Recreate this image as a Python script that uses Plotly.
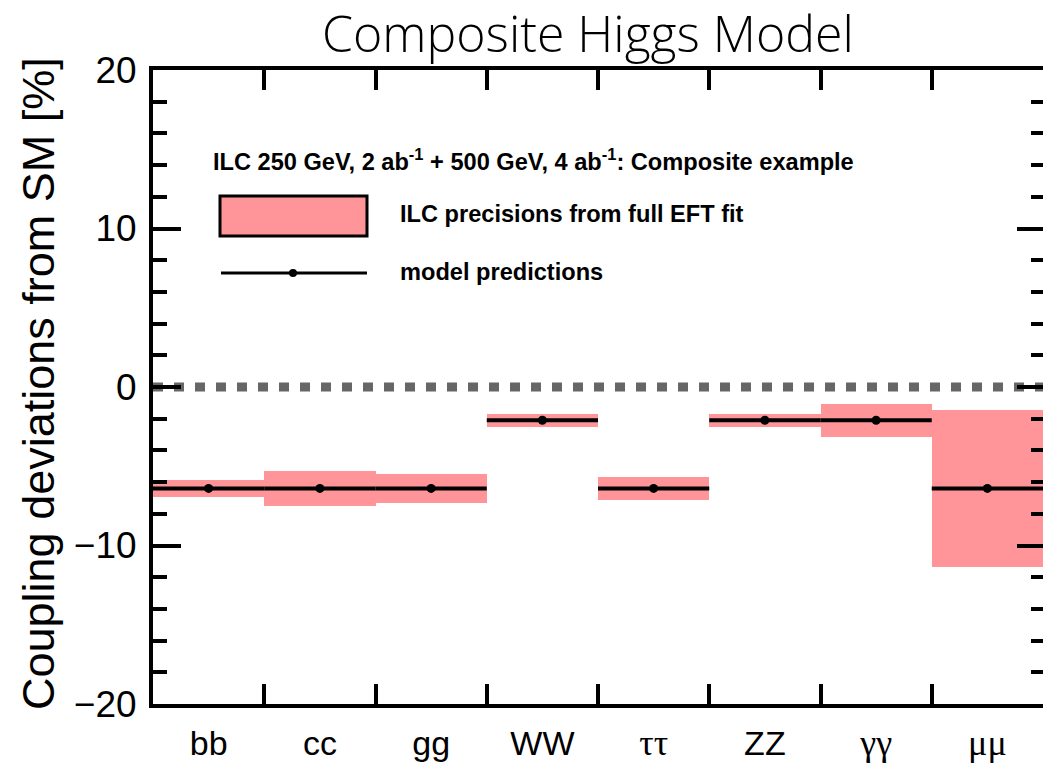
import plotly.graph_objects as go

# ---------------- data ----------------
categories = ["bb", "cc", "gg", "WW", "ττ", "ZZ", "γγ", "μμ"]
model_pred = [-6.4, -6.4, -6.4, -2.1, -6.4, -2.1, -2.1, -6.4]
band_high = [-5.85, -5.3, -5.5, -1.7, -5.65, -1.7, -1.05, -1.45]
band_low = [-6.95, -7.5, -7.3, -2.5, -7.15, -2.5, -3.15, -11.35]
y_ticks = [-20, -10, 0, 10, 20]

BAND = "#ff9599"
SANS = "Liberation Sans, Arial, Helvetica, sans-serif"
SERIF = "Liberation Serif"

W, H = 1043, 765
L, R, T, B = 153, 0, 70, 61
PW, PH = W - L - R, H - T - B


def px(x):
    return (x - L) / PW


def py(y):
    return (H - B - y) / PH


xpos = list(range(len(categories)))
fig = go.Figure()

# bands
fig.add_trace(go.Bar(
    x=xpos, base=band_low, y=[h - l for h, l in zip(band_high, band_low)],
    width=1.0, marker=dict(color=BAND, line=dict(width=0)), showlegend=False,
    hoverinfo="skip"))

# zero reference line
fig.add_trace(go.Scatter(
    x=[-0.5, len(categories) - 0.5], y=[0, 0], mode="lines",
    line=dict(color="#666666", width=9, dash="10px,11px"), showlegend=False))

# model prediction segments
lx, ly = [], []
for i, v in enumerate(model_pred):
    lx += [i - 0.5, i + 0.5, None]
    ly += [v, v, None]
fig.add_trace(go.Scatter(x=lx, y=ly, mode="lines",
                         line=dict(color="black", width=4), showlegend=False))
fig.add_trace(go.Scatter(x=xpos, y=model_pred, mode="markers",
                         marker=dict(color="black", size=9), showlegend=False))

# invisible trace to activate the right-hand tick axis
fig.add_trace(go.Scatter(x=[None], y=[None], yaxis="y2", showlegend=False,
                         hoverinfo="skip"))

ticktext = []
for c in categories:
    if c in ("ττ", "γγ", "μμ"):
        ticktext.append(f'<span style="font-family:{SERIF};font-size:36px">{c}</span>')
    else:
        ticktext.append(c)

LEG_FONT = dict(family=SANS, size=23.6, color="black", weight="bold")

fig.update_layout(
    width=W, height=H, margin=dict(l=L, r=R, t=T, b=B),
    paper_bgcolor="white", plot_bgcolor="white", bargap=0,
    xaxis=dict(range=[-0.5, len(categories) - 0.5], tickvals=xpos, ticktext=ticktext,
               ticks="inside", ticklen=0, showgrid=False, zeroline=False,
               showline=True, linecolor="black", linewidth=4, mirror="ticks",
               tickfont=dict(family=SANS, size=34, color="black"),
               ticklabelstandoff=6,
               minor=dict(tickvals=[i + 0.5 for i in xpos[:-1]], ticks="inside",
                          ticklen=20, tickwidth=4, tickcolor="black", showgrid=False)),
    yaxis=dict(range=[-20, 20], tickvals=y_ticks, ticks="inside", ticklen=28,
               tickwidth=4, tickcolor="black", showgrid=False, zeroline=False,
               showline=True, linecolor="black", linewidth=4, mirror=False,
               tickfont=dict(family=SANS, size=37, color="black"),
               ticklabelstandoff=5,
               minor=dict(dtick=2, tick0=0, ticks="inside", ticklen=14, tickwidth=4,
                          tickcolor="black", showgrid=False)),
    yaxis2=dict(range=[-20, 20], overlaying="y", side="right", tickvals=y_ticks,
                ticks="inside", ticklen=26, tickwidth=4, tickcolor="black",
                showticklabels=False, showgrid=False, zeroline=False, showline=False,
                minor=dict(dtick=2, tick0=0, ticks="inside", ticklen=12, tickwidth=4,
                           tickcolor="black", showgrid=False)),
    shapes=[
        dict(type="rect", xref="paper", yref="paper", x0=px(220), x1=px(367),
             y0=py(236), y1=py(196), fillcolor=BAND, line=dict(color="black", width=3)),
        dict(type="line", xref="paper", yref="paper", x0=px(221), x1=px(367),
             y0=py(273), y1=py(273), line=dict(color="black", width=3)),
        dict(type="circle", xref="paper", yref="paper", x0=px(289), x1=px(297),
             y0=py(277), y1=py(269), fillcolor="black", line=dict(color="black", width=0)),
    ],
    annotations=[
        dict(text="Composite Higgs Model", xref="paper", yref="paper",
             x=px(588), y=py(33), xanchor="center", yanchor="middle", showarrow=False,
             font=dict(family="Open Sans, sans-serif", size=50, color="black", weight=300)),
        dict(text="Coupling deviations from SM [%]", xref="paper", yref="paper",
             x=px(38), y=py(384), xanchor="center", yanchor="middle", textangle=-90,
             showarrow=False, font=dict(family=SANS, size=45, color="black")),
        dict(text="ILC 250 GeV, 2 ab<sup>-1</sup> + 500 GeV, 4 ab<sup>-1</sup>: Composite example",
             xref="paper", yref="paper", x=px(211), y=py(160), xanchor="left", yanchor="middle",
             showarrow=False, font=LEG_FONT),
        dict(text="ILC precisions from full EFT fit", xref="paper", yref="paper",
             x=px(398), y=py(214), xanchor="left", yanchor="middle", showarrow=False,
             font=LEG_FONT),
        dict(text="model predictions", xref="paper", yref="paper",
             x=px(398), y=py(272), xanchor="left", yanchor="middle", showarrow=False,
             font=LEG_FONT),
    ],
)

fig.write_html("out.html")
